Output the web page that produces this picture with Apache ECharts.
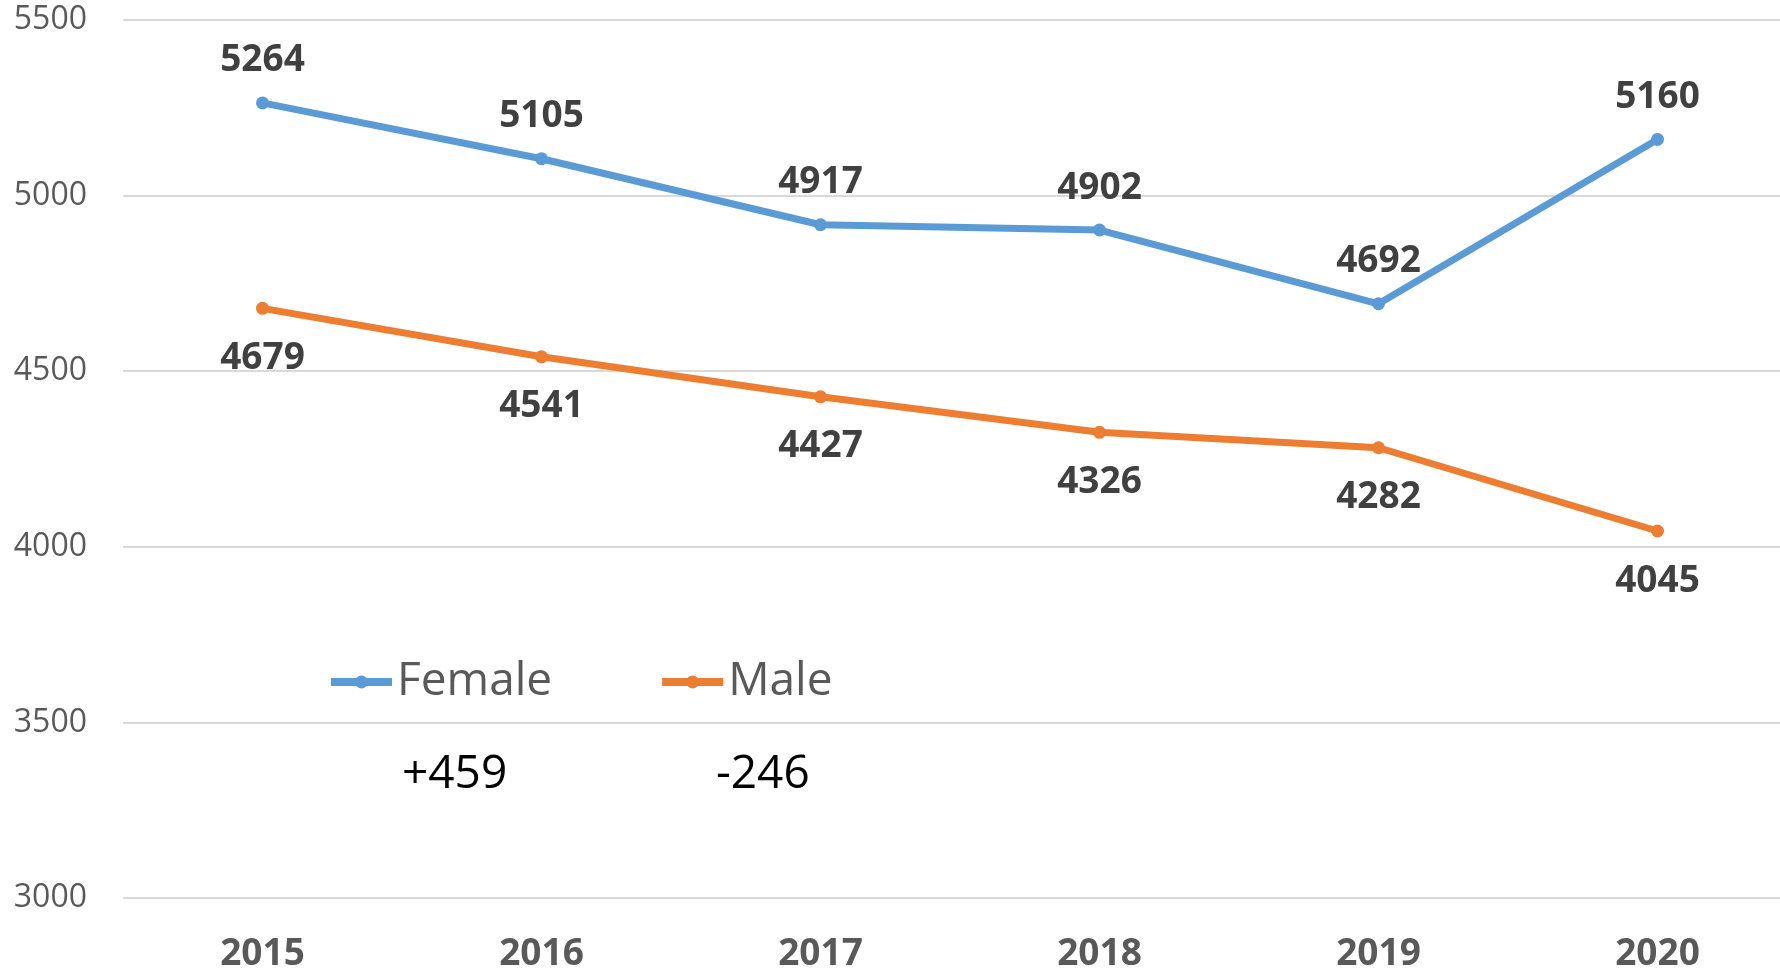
<!DOCTYPE html>
<html>
<head>
<meta charset="utf-8">
<title>Female / Male</title>
<script src="https://cdn.jsdelivr.net/npm/echarts@6/dist/echarts.min.js"></script>
<style>
  html, body { margin: 0; padding: 0; background: #fff; }
  #chart { width: 1780px; height: 971px; }
</style>
</head>
<body>
<div id="chart"></div>
<script>
// data
const years = ['2015', '2016', '2017', '2018', '2019', '2020']
const female = [5264, 5105, 4917, 4902, 4692, 5160]
const male = [4679, 4541, 4427, 4326, 4282, 4045]
const changeNotes = ['+459', '-246']

const font = '"Open Sans", "Noto Sans", sans-serif'
const chart = echarts.init(document.getElementById('chart'))

function lineSeries(name, data, color, labelPos) {
  return {
    name: name,
    type: 'line',
    data: data,
    symbol: 'circle',
    symbolSize: 13,
    lineStyle: { color: color, width: 7 },
    itemStyle: { color: color },
    label: {
      show: true,
      position: labelPos,
      distance: labelPos === 'top' ? 17 : 25,
      fontFamily: font,
      fontSize: 37,
      fontWeight: 'bold',
      color: '#404040'
    },
    animation: false
  }
}

chart.setOption({
  textStyle: { fontFamily: font },
  grid: { left: 123, top: 20, width: 1674, bottom: 73, outerBoundsMode: 'none' },
  legend: {
    left: 322,
    top: 654,
    itemWidth: 61,
    itemHeight: 16,
    itemGap: 106,
    lineStyle: { width: 8 },
    textStyle: { fontFamily: font, fontSize: 46, color: '#595959' },
    data: ['Female', 'Male']
  },
  xAxis: {
    type: 'category',
    data: years,
    axisLine: { show: false },
    axisTick: { show: false },
    axisLabel: {
      margin: 38,
      fontFamily: font,
      fontSize: 37,
      fontWeight: 'bold',
      color: '#595959'
    }
  },
  yAxis: {
    type: 'value',
    min: 3000,
    max: 5500,
    interval: 500,
    axisLine: { show: false },
    axisTick: { show: false },
    axisLabel: {
      margin: 36,
      fontFamily: font,
      fontSize: 32,
      color: '#595959',
      formatter: function (v) { return String(v) }
    },
    splitLine: { lineStyle: { color: '#d9d9d9', width: 2 } }
  },
  graphic: [
    { type: 'text', left: 402, top: 752, style: { text: changeNotes[0], font: '46px ' + font, fill: '#000' } },
    { type: 'text', left: 716, top: 752, style: { text: changeNotes[1], font: '46px ' + font, fill: '#000' } }
  ],
  series: [
    lineSeries('Female', female, '#5b9bd5', 'top'),
    lineSeries('Male', male, '#ed7d31', 'bottom')
  ]
})
</script>
</body>
</html>
